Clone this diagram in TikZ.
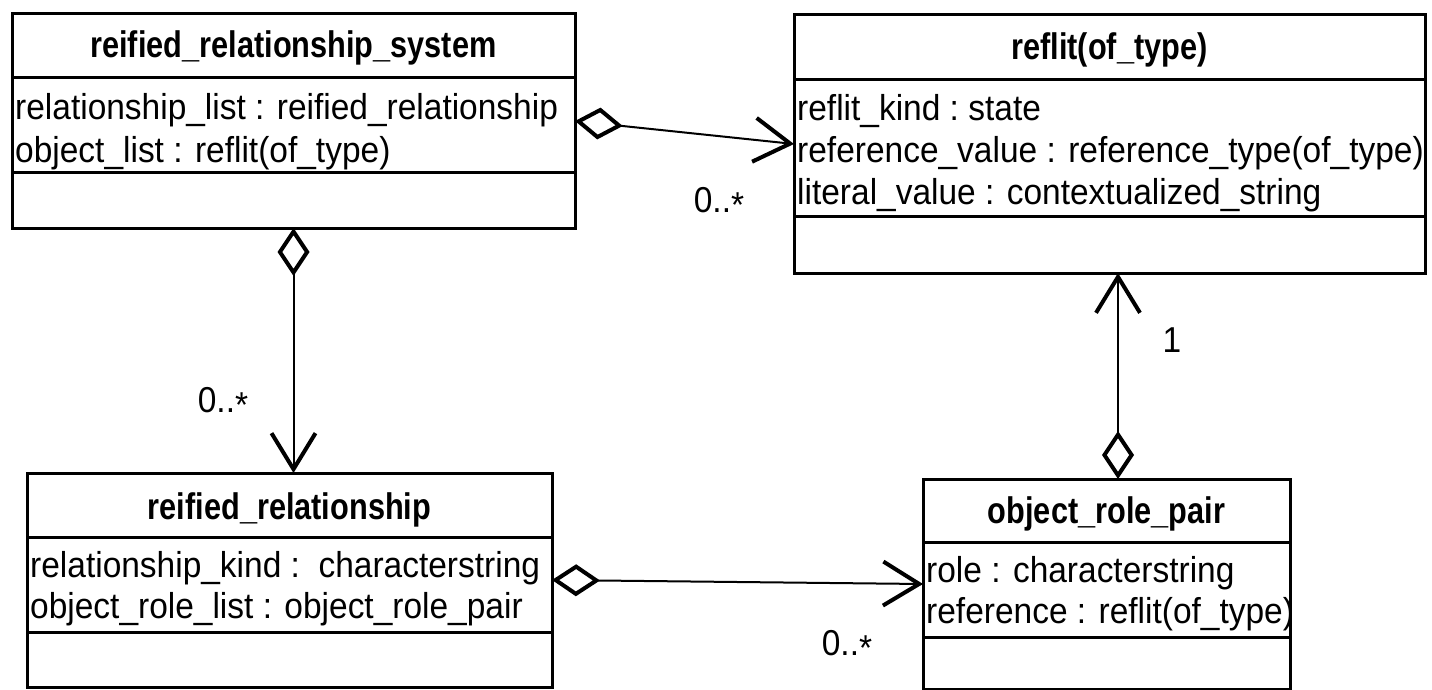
\documentclass[tikz,border=0pt]{standalone}
\usepackage{fontspec}
\setmainfont{Liberation Sans}
\newfontfamily\titlefont{Liberation Sans}[FakeStretch=0.83]
\newfontfamily\attrfont{Liberation Sans}[FakeStretch=0.93]
\usetikzlibrary{arrows.meta}

\tikzset{
  classbox/.style={draw, line width=3pt, anchor=north west, inner sep=0pt, outer sep=0pt},
  divider/.style={line width=3pt},
  classtitle/.style={anchor=base, inner sep=0pt, font=\titlefont\bfseries\fontsize{37}{42}\selectfont},
  attr/.style={anchor=base west, inner sep=0pt, font=\attrfont\fontsize{36}{42}\selectfont},
  mult/.style={inner sep=0pt, font=\attrfont\fontsize{36}{42}\selectfont},
  assoc/.style={line width=2pt,
    {Diamond[open, length=48pt, width=32pt, line width=4pt]}-{Straight Barb[length=36pt, width=44pt, line width=4pt]}},
}

\begin{document}
\begin{tikzpicture}[x=1pt, y=-1pt]
  \fill[white] (0,0) rectangle (1432,690);
  \useasboundingbox (0,0) rectangle (1432,690);

  % reified_relationship_system
  \node[classbox, minimum width=563pt, minimum height=214pt] (A) at (12,14) {};
  \node[classtitle] (At) at (293.5,58) {reified\_relationship\_system};
  \draw[divider] (A.west |- 0,78) -- (A.east |- 0,78);
  \node[attr] (A1) at (15,120) {relationship\_list : reified\_relationship};
  \node[attr] (A2) at (15,162) {object\_list : reflit(of\_type)};
  \draw[divider] (A.west |- 0,172) -- (A.east |- 0,172);

  % reflit(of_type)
  \node[classbox, minimum width=631pt, minimum height=258pt] (R) at (794,15) {};
  \node[classtitle] (Rt) at (1109.5,60) {reflit(of\_type)};
  \draw[divider] (R.west |- 0,80) -- (R.east |- 0,80);
  \node[attr] (R1) at (797,121) {reflit\_kind :\ state};
  \node[attr] (R2) at (797,162) {reference\_value : reference\_type(of\_type)};
  \node[attr] (R3) at (797,204) {literal\_value : contextualized\_string};
  \draw[divider] (R.west |- 0,216) -- (R.east |- 0,216);

  % reified_relationship
  \node[classbox, minimum width=525pt, minimum height=214pt] (B) at (27,473) {};
  \node[classtitle] (Bt) at (289.5,519) {reified\_relationship};
  \draw[divider] (B.west |- 0,537) -- (B.east |- 0,537);
  \node[attr] (B1) at (30,577) {relationship\_kind :\ \ characterstring};
  \node[attr] (B2) at (30,618) {object\_role\_list : object\_role\_pair};
  \draw[divider] (B.west |- 0,632) -- (B.east |- 0,632);

  % object_role_pair
  \node[classbox, minimum width=367pt, minimum height=210pt] (D) at (923,479) {};
  \node[classtitle] (Dt) at (1106.5,523) {object\_role\_pair};
  \draw[divider] (D.west |- 0,542) -- (D.east |- 0,542);
  \node[attr] (D1) at (926,582) {role : characterstring};
  \node[attr] (D2) at (926,623) {reference : reflit(of\_type)};
  \draw[divider] (D.west |- 0,637) -- (D.east |- 0,637);

  % aggregations
  \draw[assoc] (A.east) -- (R.west);
  \draw[assoc] (A.south) -- (A.south |- B.north);
  \draw[assoc] ([xshift=11.5pt]D.north) -- ([xshift=11.5pt]D.north |- R.south);
  \draw[assoc] (B.east) -- (D.west);

  % multiplicities
  \node[mult] (m1) at (719,202) {0..\raisebox{-5pt}{*}};
  \node[mult] (m2) at (223,402) {0..\raisebox{-5pt}{*}};
  \node[mult] (m3) at (1172,340) {1};
  \node[mult] (m4) at (847,645) {0..\raisebox{-5pt}{*}};
\end{tikzpicture}
\end{document}
